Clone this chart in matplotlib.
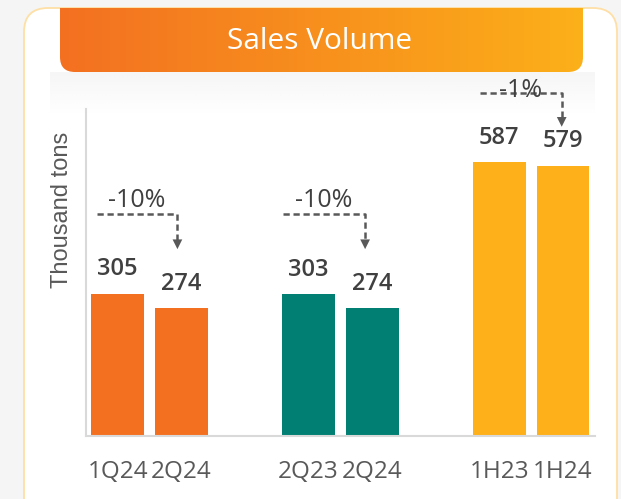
import numpy as np
import matplotlib
matplotlib.use('Agg')
import matplotlib.pyplot as plt
from matplotlib.patches import FancyBboxPatch
from matplotlib.colors import to_rgb

# data
labels = ['1Q24', '2Q24', '2Q23', '2Q24', '1H23', '1H24']
volumes = [305, 274, 303, 274, 587, 579]
changes = ['-10%', '-10%', '-1%']
group_colors = ['#F37021', '#007F72', '#FDB019']

# layout
W, H = 621, 499
x = [0, 1, 3, 4, 6, 7]
arrow_y = [476, 476, 735]      # level of the dashed line (data units)
arrow_tip = [400, 400, 662]
arrow_x0 = [-0.33, -0.4, -0.3]  # offset from left bar centre
arrow_x1 = [-0.06, -0.11, -0.02]  # offset from right bar centre
pct_dy = [5, 5, -3]             # text baseline offset from line, points

fig = plt.figure(figsize=(W / 100, H / 100), dpi=100, facecolor='#F5F5F5')

# background: card, banner
bg = fig.add_axes([0, 0, 1, 1], zorder=0)
bg.set_xlim(0, W)
bg.set_ylim(H, 0)
bg.axis('off')

card = FancyBboxPatch((24, 8), 593, 520, boxstyle='round,pad=0,rounding_size=24',
                      fc='white', ec='#FEDFA6', lw=1.3)
bg.add_patch(card)

# soft shadow under the banner
sh = np.zeros((40, 2, 4))
sh[..., :3] = 0.6
sh[..., 3] = np.linspace(0.09, 0.0, 40)[:, None] ** 1.0
bg.imshow(sh, extent=[50, 595, 115, 72], aspect='auto', interpolation='bilinear', zorder=1)

c0, c1 = np.array(to_rgb('#F37021')), np.array(to_rgb('#FCB019'))
t = np.linspace(0, 1, 256)[None, :, None]
grad = c0 + (c1 - c0) * t
clip = FancyBboxPatch((60, -30), 523, 102, boxstyle='round,pad=0,rounding_size=15',
                      fc='none', ec='none', transform=bg.transData)
bg.add_patch(clip)
im = bg.imshow(grad, extent=[60, 583, 72, 8], aspect='auto', zorder=2)
im.set_clip_path(clip)
bg.text(320, 41, 'Sales Volume', color='white', fontsize=21.5, family='Open Sans',
        fontweight='medium', ha='center', va='center', zorder=3)

# y label placed by hand
bg.text(62, 210, 'Thousand tons', rotation=90, fontsize=17, family='Liberation Sans',
        color='#595959', ha='center', va='center', zorder=3)

# main chart
ax = fig.add_axes([85.8 / W, 1 - 436 / H, (594.8 - 85.8) / W, (436 - 109) / H], zorder=1)
ax.patch.set_alpha(0)
colors = [group_colors[i // 2] for i in range(len(volumes))]
bars = ax.bar(x, volumes, width=0.83, color=colors)
ax.set_xlim(-0.5, 7.5)
ax.set_ylim(0, 700)
for s in ['top', 'right']:
    ax.spines[s].set_visible(False)
for s in ['left', 'bottom']:
    ax.spines[s].set_color('#D9D9D9')
    ax.spines[s].set_linewidth(1.5)
ax.set_yticks([])
ax.set_xticks(x)
ax.set_xticklabels(labels, fontsize=17.5, family='Open Sans', color='#595959')
ax.tick_params(axis='x', length=0, pad=17)

for xi, v in zip(x, volumes):
    ax.annotate(str(v), (xi, v), xytext=(0, 13), textcoords='offset points',
                ha='center', va='baseline', fontsize=17, fontweight='semibold',
                family='Open Sans', color='#404040')

for g in range(3):
    xa = x[2 * g] + arrow_x0[g]
    xb = x[2 * g + 1] + arrow_x1[g]
    ya = arrow_y[g]
    ax.plot([xa, xb, xb], [ya, ya, arrow_tip[g] + 20], ls=(0, (2.5, 1.5)), color='#595959',
            lw=1.8, clip_on=False, zorder=3)
    ax.annotate('', xy=(xb, arrow_tip[g]), xytext=(xb, arrow_tip[g] + 22),
                arrowprops=dict(arrowstyle='-|>,head_width=0.35,head_length=0.7',
                                color='#595959', lw=0, shrinkA=0, shrinkB=0),
                annotation_clip=False)
    ax.annotate(changes[g], ((xa + xb) / 2, ya), xytext=(0, pct_dy[g]),
                textcoords='offset points', ha='center', va='baseline', fontsize=18,
                family='Open Sans', color='#404040', annotation_clip=False, zorder=4)

fig.savefig('out.png', dpi=100, facecolor=fig.get_facecolor())
